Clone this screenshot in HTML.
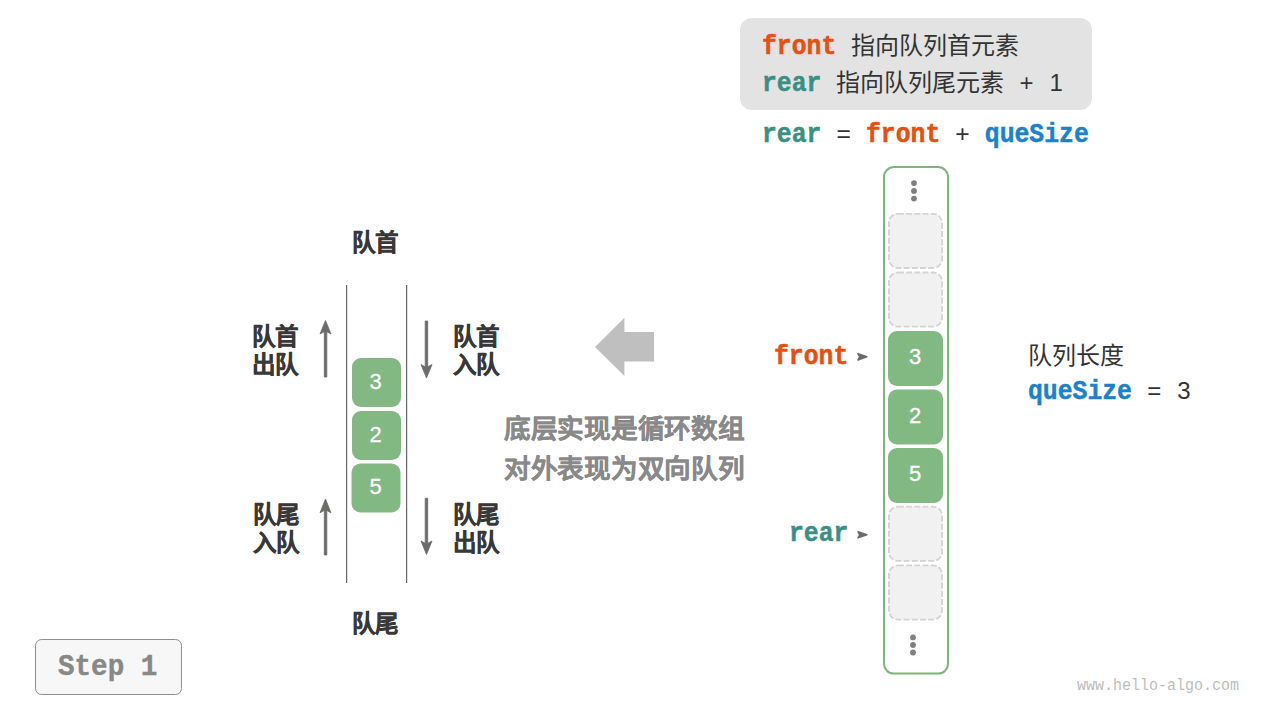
<!DOCTYPE html>
<html lang="zh-CN">
<head>
<meta charset="utf-8">
<style>
html,body{margin:0;padding:0;}
body{width:1280px;height:720px;position:relative;overflow:hidden;background:#fff;font-family:"Liberation Sans",sans-serif;color:#333;}
.a{position:absolute;white-space:nowrap;}
.m{font-family:"Liberation Mono",monospace;}
.b{font-weight:bold;}
.cb{font-family:"Liberation Mono",monospace;font-weight:bold;display:inline-block;transform:scaleY(1.15);transform-origin:0 19px;-webkit-text-stroke:0.45px currentColor;}
.or{color:#e84e0f;}
.tl{color:#3a8f84;}
.bl{color:#1a82cc;}
.t24{font-size:24px;line-height:24px;}
.code{font-size:24.75px;line-height:25px;}
.sg{display:inline-block;width:14.85px;text-align:center;font-family:"Liberation Sans",sans-serif;font-size:24px;}
.dg{font-size:22px;line-height:24px;color:#fff;-webkit-text-stroke:0.3px #fff;}
.lbl{font-size:23.5px;line-height:28px;font-weight:bold;color:#383838;-webkit-text-stroke:0.4px #383838;}
</style>
</head>
<body>
<svg style="position:absolute;left:0;top:0" width="1280" height="720">
  <!-- legend box -->
  <rect x="740" y="18" width="352" height="92" rx="12" fill="#e3e3e3"/>
  <!-- left stack lines -->
  <rect x="346" y="285" width="1.2" height="298" fill="#666"/>
  <rect x="406" y="285" width="1.2" height="298" fill="#666"/>
  <!-- left cells -->
  <rect x="352" y="358" width="49" height="49" rx="9" fill="#82b882"/>
  <rect x="352" y="411" width="49" height="49" rx="9" fill="#82b882"/>
  <rect x="351.5" y="463.5" width="49" height="49" rx="9" fill="#82b882"/>
  <!-- small arrows -->
  <g fill="#6d6a6a" stroke="#6d6a6a" stroke-width="0.8" stroke-linejoin="round">
    <rect x="324.3" y="330" width="2.5" height="47"/>
    <path d="M325.5 320.5 L331 334 L325.5 331 L320 334 Z"/>
    <rect x="425.2" y="321" width="2.5" height="47"/>
    <path d="M426.5 378 L432 364.5 L426.5 367.5 L421 364.5 Z"/>
    <rect x="324.3" y="508" width="2.5" height="47"/>
    <path d="M325.5 499 L331 512.8 L325.5 509.8 L320 512.8 Z"/>
    <rect x="425.2" y="498.3" width="2.5" height="47"/>
    <path d="M426.5 554.5 L432 541 L426.5 544 L421 541 Z"/>
  </g>
  <!-- big gray arrow -->
  <polygon points="595,347 624.4,317.8 624.4,332.1 654,332.1 654,361.6 624.4,361.6 624.4,376.1" fill="#bfbfbf"/>
  <!-- pointer arrows -->
  <path d="M858 353.8 L866.8 356.7 L858 359.9 L859.8 356.8 Z" fill="#6b6969" stroke="#6b6969" stroke-width="1.6" stroke-linejoin="round"/>
  <path d="M858 531.7 L866.8 534.7 L858 537.8 L859.8 534.8 Z" fill="#6b6969" stroke="#6b6969" stroke-width="1.6" stroke-linejoin="round"/>
  <!-- right container -->
  <rect x="884" y="167" width="64" height="506.6" rx="10" fill="#ffffff" stroke="#7db67d" stroke-width="2"/>
  <g fill="#808080">
    <circle cx="914" cy="183.1" r="2.9"/>
    <circle cx="914" cy="190.9" r="2.9"/>
    <circle cx="914" cy="198.6" r="2.9"/>
    <circle cx="913" cy="637.4" r="2.9"/>
    <circle cx="913" cy="645" r="2.9"/>
    <circle cx="913" cy="652.5" r="2.9"/>
  </g>
  <g fill="#f1f1f1" stroke="#d3d3d3" stroke-width="1.8" stroke-dasharray="6 2.2">
    <rect x="888.9" y="213.8" width="53.2" height="54.2" rx="9"/>
    <rect x="888.9" y="272.5" width="53.2" height="54.2" rx="9"/>
    <rect x="888.9" y="506.7" width="53.2" height="54.2" rx="9"/>
    <rect x="888.9" y="565.4" width="53.2" height="54.2" rx="9"/>
  </g>
  <g fill="#82b882">
    <rect x="888" y="331" width="55" height="55" rx="9"/>
    <rect x="888" y="389.5" width="55" height="55" rx="9"/>
    <rect x="888" y="448" width="55" height="55" rx="9"/>
  </g>
  <!-- step button -->
  <rect x="35.5" y="639.5" width="146" height="55" rx="6" fill="#f7f7f7" stroke="#8f8f8f" stroke-width="1"/>
</svg>

<!-- legend text -->
<div class="a code" style="left:762px;top:33px;"><span class="cb or">front</span><span class="m"> </span><span style="font-size:24px">指向队列首元素</span></div>
<div class="a code" style="left:762px;top:70px;"><span class="cb tl">rear</span><span class="m"> </span><span style="font-size:24px">指向队列尾元素</span><span class="m"> <span class="sg">+</span> <span class="sg">1</span></span></div>
<div class="a code m" style="left:762px;top:123px;"><span class="cb tl">rear</span> = <span class="cb or">front</span> + <span class="cb bl">queSize</span></div>

<!-- left diagram labels -->
<div class="a lbl" style="left:352px;top:229px;">队首</div>
<div class="a lbl" style="left:352px;top:610px;">队尾</div>
<div class="a lbl" style="left:252px;top:323px;">队首<br>出队</div>
<div class="a lbl" style="left:453px;top:323px;">队首<br>入队</div>
<div class="a lbl" style="left:253px;top:501px;">队尾<br>入队</div>
<div class="a lbl" style="left:453px;top:501px;">队尾<br>出队</div>

<div class="a dg" style="left:369.5px;top:370px;">3</div>
<div class="a dg" style="left:369.5px;top:423px;">2</div>
<div class="a dg" style="left:369.5px;top:475px;">5</div>

<div class="a b" style="left:504px;top:409px;font-size:26.6px;letter-spacing:-0.3px;line-height:40px;color:#898989;-webkit-text-stroke:0.3px #898989;">底层实现是循环数组<br>对外表现为双向队列</div>

<!-- right array labels -->
<div class="a dg" style="left:909px;top:345px;">3</div>
<div class="a dg" style="left:909px;top:404px;">2</div>
<div class="a dg" style="left:909px;top:462px;">5</div>

<div class="a code" style="left:774px;top:343px;"><span class="cb or">front</span></div>
<div class="a code" style="left:789px;top:520px;"><span class="cb tl">rear</span></div>

<div class="a t24" style="left:1028px;top:344px;">队列长度</div>
<div class="a code m" style="left:1028px;top:378px;"><span class="cb bl">queSize</span> <span class="sg">=</span> <span class="sg">3</span></div>

<div class="a m b" style="left:58px;top:652.5px;font-size:27.6px;line-height:30px;color:#888;transform:scaleY(1.1);transform-origin:0 23px;-webkit-text-stroke:0.4px #888;">Step 1</div>
<div class="a m" style="left:1077px;top:677.5px;font-size:15px;line-height:18px;color:#bdbdbd;transform:scaleY(1.15);transform-origin:0 14px;">www.hello-algo.com</div>
</body>
</html>
